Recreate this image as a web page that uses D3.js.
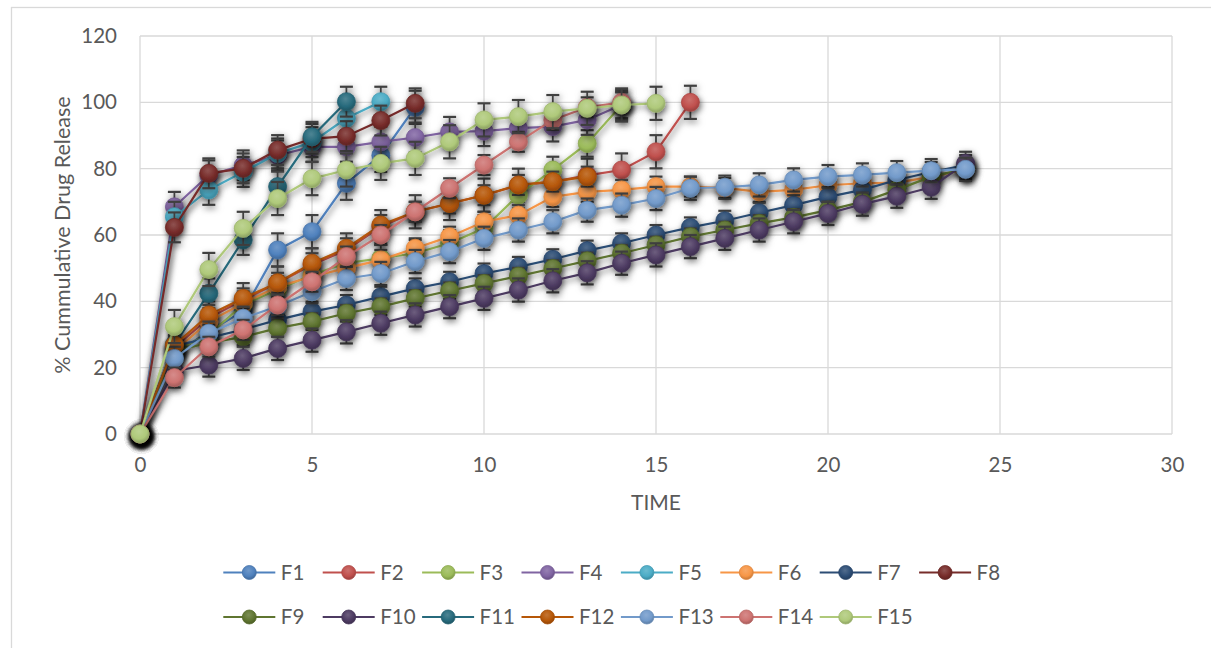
<!DOCTYPE html>
<html>
<head>
<meta charset="utf-8">
<script src="https://cdn.jsdelivr.net/npm/d3@7"></script>
<style>
  html, body { margin: 0; padding: 0; background: #fff; }
  svg { display: block; }
  text { font-family: Lato, "Open Sans", sans-serif; fill: #595959; }
</style>
</head>
<body>
<svg id="chart" width="1211" height="648"></svg>
<script>
// ---------- data ----------
const times = [0,1,2,3,4,5,6,7,8,9,10,11,12,13,14,15,16,17,18,19,20,21,22,23,24];
const xTicks = [0,5,10,15,20,25,30];
const yTicks = [0,20,40,60,80,100,120];
const seriesNames = ["F1","F2","F3","F4","F5","F6","F7","F8","F9","F10","F11","F12","F13","F14","F15"];
const seriesColors = ["#4F81BD","#C0504D","#9BBB59","#8064A2","#4BACC6","#F79646","#2C4D75","#772C2A","#5F7530","#4D3B62","#276A7C","#B65708","#729ACA","#CD7371","#AFC97A"];

const F1  = [0,24,31,37,55.5,61,75.6,84,98.5];
const F2  = [0,26,35,40.5,45.5,51,55.5,62.5,67,69.5,72,75,76,78,79.6,85.1,100];
const F3  = [0,25,30,39,43.5,48,51.5,53,54.5,57.5,62,72,79.6,87.6,99.2];
const F4  = [0,68.5,78,81,84,86.6,86.6,88.1,89.4,91.1,91.3,92.2,92.7,94.7,99.2];
const F5  = [0,65.5,73.6,79,84.6,88,95.2,100.2];
const F6  = [0,25,33.9,39.4,44.4,47.5,50,52.5,56,59.5,64,66,71.5,73,73.6,74.6,74.6,74.2,73,73.6,75,75.6,75.8,77.5,79.8];
const F7  = [0,26.5,29,31.5,34.4,36.9,38.9,41.4,43.9,45.9,48.4,50.4,52.7,55.3,57.5,60,62.3,64.3,66.7,69,71.5,73.6,76.6,79,81.1];
const F8  = [0,62.3,78.6,80.1,85.6,89,89.8,94.5,99.7];
const F9  = [0,25,27.5,29.3,31.9,33.9,36.4,38.4,40.9,43.2,45.4,47.6,49.9,52.2,54.5,57,59.5,61.5,63.5,65.3,67.5,70,73.6,77.6,80];
const F10 = [0,19,20.8,22.8,25.8,28.3,30.8,33.4,35.9,38.4,40.9,43.4,46.2,48.6,51.5,54,56.5,59,61.5,64,66.5,69.3,71.7,74.4,81.6];
const F11 = [0,27,42.4,58.5,74.6,89.6,100.2];
const F12 = [0,26.8,35.9,40.9,45.6,51.5,56,63,67,69.5,72,75.1,76.1,77.6];
const F13 = [0,22.8,30.4,34.9,38.5,42.9,46.9,48.4,52,55,59,61.5,64,67.5,69,71,74.1,74.4,75.1,76.6,77.6,78.1,78.8,79.4,79.8];
const F14 = [0,17,26.3,31.4,38.9,45.9,53.5,60,67,74.1,81.1,88.1,94.7,98.5,100];
const F15 = [0,32.4,49.6,62,71,77,79.6,81.6,83.1,88.1,94.7,95.7,97.2,98.2,99.2,99.7];
const seriesValues = [F1,F2,F3,F4,F5,F6,F7,F8,F9,F10,F11,F12,F13,F14,F15];
const seriesErrors = [5,5,4,4.5,4.5,3,3,4.5,2.5,3.5,4.5,3,3.5,3,5];

// ---------- layout ----------
const svg = d3.select("#chart");
const W = 1211, H = 648;
const FS = "20.5px";
const plot = {left: 140, right: 1172, top: 36, bottom: 434};
const x = d3.scaleLinear().domain([0,30]).range([plot.left, plot.right]);
const y = d3.scaleLinear().domain([0,120]).range([plot.bottom, plot.top]);

const defs = svg.append("defs");
const shadow = defs.append("filter").attr("id","shadow")
  .attr("x","-80%").attr("y","-80%").attr("width","260%").attr("height","260%");
shadow.append("feDropShadow").attr("dx",1.5).attr("dy",2.5)
  .attr("stdDeviation",3).attr("flood-color","#000").attr("flood-opacity",0.6);

seriesColors.forEach((c,i) => {
  const g = defs.append("radialGradient").attr("id","grad"+i)
    .attr("cx","45%").attr("cy","35%").attr("r","70%");
  g.append("stop").attr("offset","0%").attr("stop-color", d3.interpolateRgb(c,"#ffffff")(0.18));
  g.append("stop").attr("offset","60%").attr("stop-color", c);
  g.append("stop").attr("offset","100%").attr("stop-color", d3.interpolateRgb(c,"#000000")(0.25));
});

// outer chart border
svg.append("rect").attr("x",11.5).attr("y",7.5).attr("width",W+20).attr("height",H+20)
  .attr("fill","none").attr("stroke","#d9d9d9").attr("stroke-width",1.3);

// grid
const grid = svg.append("g");
grid.selectAll(".hg").data(yTicks).join("line")
  .attr("x1",plot.left).attr("x2",plot.right)
  .attr("y1",d=>y(d)).attr("y2",d=>y(d))
  .attr("stroke","#d9d9d9").attr("stroke-width",1.3);
grid.selectAll(".vg").data(xTicks).join("line")
  .attr("y1",plot.top).attr("y2",plot.bottom)
  .attr("x1",d=>x(d)).attr("x2",d=>x(d))
  .attr("stroke","#d9d9d9").attr("stroke-width",1.3);

// axes
const yAxis = svg.append("g").attr("transform",`translate(${plot.left},0)`)
  .call(d3.axisLeft(y).tickValues(yTicks).tickSize(0).tickPadding(23));
const xAxis = svg.append("g").attr("transform",`translate(0,${plot.bottom})`)
  .call(d3.axisBottom(x).tickValues(xTicks).tickSize(0).tickPadding(23));
[yAxis,xAxis].forEach(a => {
  a.select(".domain").remove();
  a.selectAll("text").style("font-size",FS).attr("fill","#595959")
   .style("font-family","Lato, 'Open Sans', sans-serif");
});

// axis titles
svg.append("text").attr("transform",`translate(70,${(plot.top+plot.bottom)/2}) rotate(-90)`)
  .attr("text-anchor","middle").style("font-size","21.5px").text("% Cummulative Drug Release");
svg.append("text").attr("x",(plot.left+plot.right)/2).attr("y",510)
  .attr("text-anchor","middle").style("font-size","21px").text("TIME");

// series
const line = d3.line().x((d,i)=>x(times[i])).y(d=>y(d));
seriesValues.forEach((vals,si) => {
  const g = svg.append("g");
  const col = seriesColors[si];
  const e = seriesErrors[si];
  g.append("path").datum(vals).attr("d",line)
    .attr("fill","none").attr("stroke",col).attr("stroke-width",2.2)
    .attr("filter","url(#shadow)");
  const eb = g.append("g").attr("filter","url(#shadow)");
  vals.forEach((v,i) => {
    if (v === 0) return;
    const cx = x(times[i]);
    eb.append("line").attr("x1",cx).attr("x2",cx).attr("y1",y(v-e)).attr("y2",y(v+e))
      .attr("stroke","#404040").attr("stroke-width",1.8);
    [v-e, v+e].forEach(b => eb.append("line").attr("x1",cx-6.5).attr("x2",cx+6.5)
      .attr("y1",y(b)).attr("y2",y(b)).attr("stroke","#404040").attr("stroke-width",2.2));
  });
  g.selectAll("circle").data(vals).join("circle")
    .attr("cx",(d,i)=>x(times[i])).attr("cy",d=>y(d)).attr("r",9)
    .attr("fill",`url(#grad${si})`).attr("stroke",d3.interpolateRgb(col,"#000")(0.1))
    .attr("stroke-width",0.8).attr("filter","url(#shadow)");
});

// legend
const leg = svg.append("g");
seriesNames.forEach((name,i) => {
  const row = i < 8 ? 0 : 1;
  const col = i < 8 ? i : i - 8;
  const lx = 223.3 + col*99.4;
  const ly = row === 0 ? 572.5 : 617;
  const c = seriesColors[i];
  leg.append("line").attr("x1",lx).attr("x2",lx+52).attr("y1",ly).attr("y2",ly)
    .attr("stroke",c).attr("stroke-width",2.2);
  leg.append("circle").attr("cx",lx+26).attr("cy",ly).attr("r",7)
    .attr("fill",`url(#grad${i})`).attr("stroke",d3.interpolateRgb(c,"#000")(0.1)).attr("stroke-width",0.8);
  leg.append("text").attr("x",lx+57.5).attr("y",ly+7.2).style("font-size",FS).text(name);
});
</script>
</body>
</html>
